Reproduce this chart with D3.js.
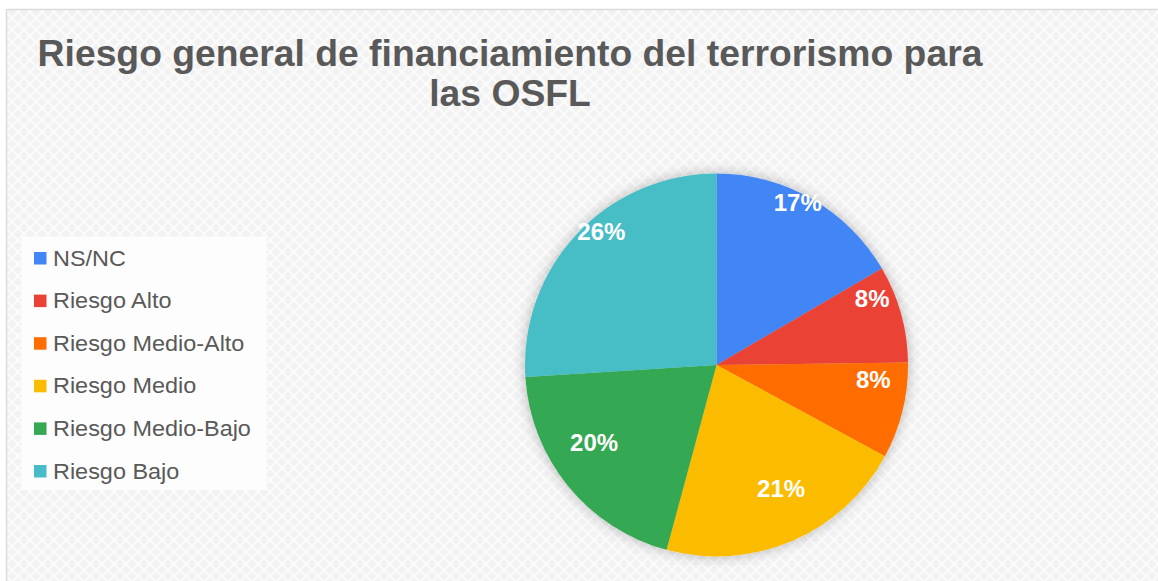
<!DOCTYPE html>
<html>
<head>
<meta charset="utf-8">
<script src="https://cdn.jsdelivr.net/npm/d3@7"></script>
<style>
  html, body { margin: 0; padding: 0; background: #fff; }
  svg { display: block; font-family: "Liberation Sans", Arial, sans-serif; }
</style>
</head>
<body>
<div id="chart"></div>
<script>
// ==================== DATA ====================
const categories = ["NS/NC", "Riesgo Alto", "Riesgo Medio-Alto", "Riesgo Medio", "Riesgo Medio-Bajo", "Riesgo Bajo"];
const values = [16.6, 8.2, 8.1, 21.3, 19.8, 26.0];
const colors = ["#4285f4", "#ea4335", "#ff6d01", "#fbbc04", "#34a853", "#46bdc6"];
const titleLines = ["Riesgo general de financiamiento del terrorismo para", "las OSFL"];

// ==================== LAYOUT ====================
const width = 1158, height = 581;
const cx = 716.5, cy = 365, radius = 191.5;

const svg = d3.select("#chart").append("svg")
  .attr("width", width)
  .attr("height", height);

const defs = svg.append("defs");

// textured background (light herringbone)
const pat = defs.append("pattern")
  .attr("id", "weave")
  .attr("width", 12).attr("height", 12)
  .attr("patternUnits", "userSpaceOnUse");
pat.append("rect").attr("width", 12).attr("height", 12).attr("fill", "#f2f2f2");
pat.append("path")
  .attr("d", "M0,6 L6,0 M6,12 L12,6 M6,0 L12,6 M0,6 L6,12")
  .attr("stroke", "#fbfbfb").attr("stroke-width", 2.2).attr("fill", "none");

const shadow = defs.append("filter")
  .attr("id", "shadow")
  .attr("x", "-20%").attr("y", "-20%")
  .attr("width", "140%").attr("height", "140%");
shadow.append("feGaussianBlur").attr("in", "SourceAlpha").attr("stdDeviation", 7).attr("result", "blur");
shadow.append("feComponentTransfer").append("feFuncA").attr("type", "linear").attr("slope", 0.28);
const merge = shadow.append("feMerge");
merge.append("feMergeNode");
merge.append("feMergeNode").attr("in", "SourceGraphic");

// frame: white margin, textured panel, thin top/left border only
svg.append("rect").attr("width", width).attr("height", height).attr("fill", "#fff");
svg.append("rect")
  .attr("x", 6).attr("y", 9)
  .attr("width", width - 6).attr("height", height - 9)
  .attr("fill", "url(#weave)");
svg.append("path")
  .attr("d", `M6.5,${height} V9.5 H${width}`)
  .attr("fill", "none")
  .attr("stroke", "#dcdcdc").attr("stroke-width", 1.5);

// ==================== TITLE ====================
svg.append("g")
  .selectAll("text")
  .data(titleLines)
  .join("text")
  .attr("transform", (d, i) => `translate(510,${66 + i * 40}) scale(1.036,1)`)
  .attr("text-anchor", "middle")
  .attr("fill", "#595959")
  .style("font-size", "36px")
  .style("font-weight", "bold")
  .text((d) => d);

// ==================== PIE ====================
const pie = d3.pie().sort(null).value((d) => d);
const arcs = pie(values);
const arc = d3.arc().innerRadius(0).outerRadius(radius);
const labelArc = d3.arc().innerRadius(160).outerRadius(160);
const pct = d3.format(".0%");
const total = d3.sum(values);

const g = svg.append("g").attr("transform", `translate(${cx},${cy})`);

g.append("g")
  .attr("filter", "url(#shadow)")
  .selectAll("path")
  .data(arcs)
  .join("path")
  .attr("d", arc)
  .attr("fill", (d, i) => colors[i]);

g.append("g")
  .selectAll("text")
  .data(arcs)
  .join("text")
  .attr("transform", (d) => {
    const [x, y] = labelArc.centroid(d);
    return `translate(${x + 1.5},${y - 24})`;
  })
  .attr("dy", "0.36em")
  .attr("text-anchor", "middle")
  .attr("fill", "#fff")
  .style("font-size", "24px")
  .style("font-weight", "bold")
  .text((d) => pct(d.value / total));

// ==================== LEGEND ====================
const legend = svg.append("g");
legend.append("rect")
  .attr("x", 22).attr("y", 237)
  .attr("width", 244).attr("height", 253)
  .attr("fill", "#fdfdfd");

const item = legend.selectAll("g.item")
  .data(categories)
  .join("g")
  .attr("class", "item")
  .attr("transform", (d, i) => `translate(34,${252 + i * 42.6})`);

item.append("rect")
  .attr("width", 12.5).attr("height", 12.5)
  .attr("fill", (d, i) => colors[i]);

item.append("text")
  .attr("transform", "translate(19,13.5) scale(1.065,1)")
  .attr("fill", "#595959")
  .style("font-size", "22px")
  .text((d) => d);
</script>
</body>
</html>
